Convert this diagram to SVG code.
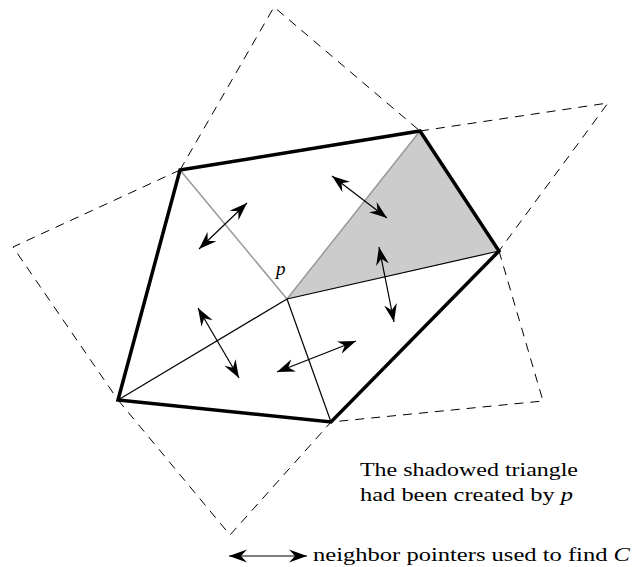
<svg xmlns="http://www.w3.org/2000/svg" width="634" height="567" viewBox="0 0 634 567">
<defs>
<marker id="ah" viewBox="-18 -7 19 14" markerWidth="19" markerHeight="14" refX="0" refY="0" orient="auto-start-reverse" markerUnits="userSpaceOnUse">
<path d="M0,0 L-18,-6.5 L-12,0 L-18,6.5 Z" fill="#000"/>
</marker>
</defs>
<style>
.dash{fill:none;stroke:#000;stroke-width:1;stroke-dasharray:9,7}
.thick{fill:none;stroke:#000;stroke-width:3.5;stroke-linejoin:miter}
.thin{stroke:#000;stroke-width:1.2;fill:none}
.gray{stroke:#999;stroke-width:1.5;fill:none}
.arr{stroke:#000;stroke-width:1.2;fill:none;marker-start:url(#ah);marker-end:url(#ah)}
text{font-family:"Liberation Serif","DejaVu Serif",serif;font-size:19px;fill:#000}
</style>
<rect width="634" height="567" fill="#fff"/>
<g id="shaded">
<polygon points="287,299 420,131 499,251" fill="#cccccc"/>
</g>
<g id="connectors">
<polyline class="dash" points="180,170 274,7 420,131"/>
<polyline class="dash" points="180,170 13,247 118,400"/>
<polyline class="dash" points="420,131 608,103 499,251"/>
<polyline class="dash" points="499,251 543,401 331,422"/>
<polyline class="dash" points="118,400 230,535 331,422"/>
<line class="gray" x1="287" y1="299" x2="180" y2="170"/>
<line class="gray" x1="287" y1="299" x2="420" y2="131"/>
<line class="thin" x1="287" y1="299" x2="499" y2="251"/>
<line class="thin" x1="287" y1="299" x2="331" y2="422"/>
<line class="thin" x1="287" y1="299" x2="118" y2="400"/>
<polygon class="thick" points="180,170 420,131 499,251 331,422 118,400"/>
<line class="arr" x1="199" y1="249" x2="247" y2="203"/>
<line class="arr" x1="332" y1="176" x2="387" y2="218"/>
<line class="arr" x1="379" y1="247" x2="394" y2="322"/>
<line class="arr" x1="198" y1="308" x2="239" y2="378"/>
<line class="arr" x1="277" y1="372" x2="356" y2="341"/>
<line class="arr" x1="229" y1="556" x2="307" y2="556"/>
</g>
<g id="labels">
<text x="276" y="275" font-style="italic">p</text>
<text x="360" y="476" textLength="218" lengthAdjust="spacingAndGlyphs">The shadowed triangle</text>
<text x="360" y="501" textLength="213" lengthAdjust="spacingAndGlyphs">had been created by <tspan font-style="italic">p</tspan></text>
<text x="313" y="561" textLength="317" lengthAdjust="spacingAndGlyphs">neighbor pointers used to find <tspan font-style="italic">C</tspan></text>
</g>
</svg>
